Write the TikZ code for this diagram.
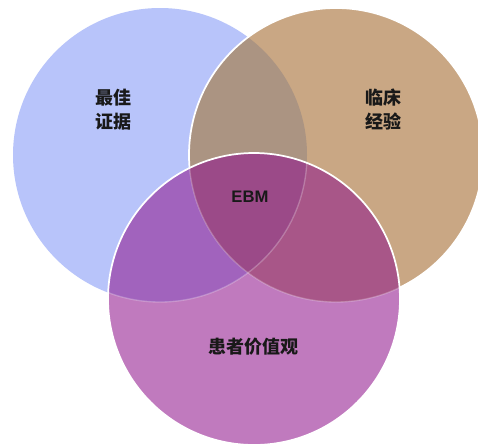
\documentclass[tikz,border=0pt]{standalone}
\usepackage{fontspec}
\newfontfamily\cjk{Noto Sans CJK SC}
\newfontfamily\lat{Liberation Sans}
\definecolor{cblue}{HTML}{B8C4FA}
\definecolor{ctan}{HTML}{C9A784}
\definecolor{cbt}{HTML}{AB9482}
\definecolor{cpur}{HTML}{C07ABE}
\definecolor{cbp}{HTML}{A163BD}
\definecolor{ctp}{HTML}{A85688}
\definecolor{cmid}{HTML}{9B4A88}
\begin{document}
\begin{tikzpicture}[x=0.75pt,y=-0.75pt,
  lbl/.style={font=\cjk\bfseries\fontsize{13.5}{18}\selectfont,align=center,text=black!90},
  rim/.style={draw=white,line width=1.3pt}]
\useasboundingbox (0,0) rectangle (478,447);
\fill[white] (0,0) rectangle (478,447);
\coordinate (B) at (160,155);
\coordinate (T) at (336,155);
\coordinate (P) at (254,299);
% blue and tan
\fill[cblue] (B) circle (147);
\fill[ctan] (T) circle (147);
\begin{scope}
  \clip (B) circle (147);
  \fill[cbt] (T) circle (147);
\end{scope}
\draw[rim] (T) circle (147);
% purple
\fill[cpur] (P) circle (146);
\begin{scope}
  \clip (P) circle (146);
  \fill[cbp] (B) circle (147);
  \fill[ctp] (T) circle (147);
  \clip (B) circle (147);
  \fill[cmid] (T) circle (147);
\end{scope}
\begin{scope}
  \clip (P) circle (146);
  \draw[white,opacity=0.25,line width=1pt] (B) circle (147);
  \draw[white,opacity=0.25,line width=1pt] (T) circle (147);
\end{scope}
\draw[rim] (P) circle (146);
% labels
\node[lbl] (best) at (113,110) {最佳\\证据};
\node[lbl] (clin) at (383,109) {临床\\经验};
\node[font=\lat\bfseries\fontsize{12.5}{15}\selectfont,text=black!90] (ebm) at (250,197) {EBM};
\node[lbl] (pat) at (253,347) {患者价值观};
\end{tikzpicture}
\end{document}
